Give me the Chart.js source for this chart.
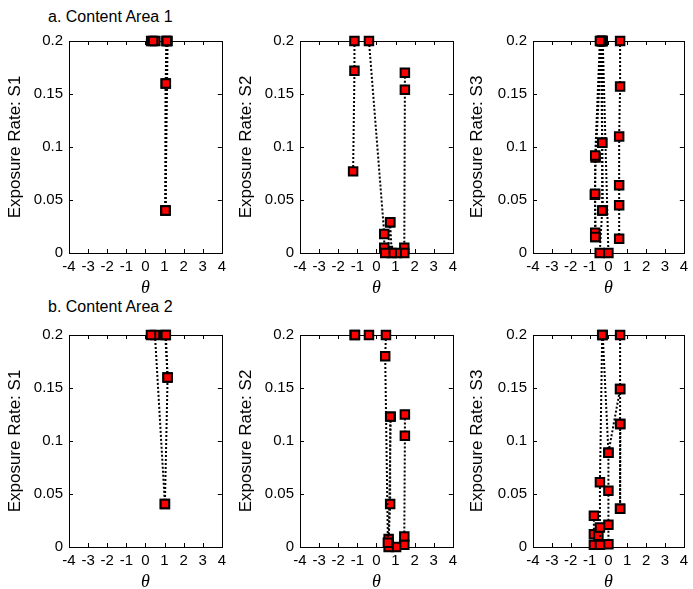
<!DOCTYPE html>
<html>
<head>
<meta charset="utf-8">
<script src="https://cdn.jsdelivr.net/npm/chart.js@4.4.1/dist/chart.umd.min.js"></script>
<style>
	html, body { margin: 0; overflow: hidden; }
	body { background: #fff; width: 693px; height: 589px; position: relative; font-family: "Liberation Sans", Arial, sans-serif; }
	canvas { position: absolute; z-index: 2; }
	.frame { position: absolute; z-index: 1; box-sizing: border-box; border: 1px solid #000; }
	.ttl { position: absolute; font-size: 16px; color: #000; white-space: nowrap; line-height: 18px; }
</style>
</head>
<body>
<div class="ttl" style="left:48px;top:8px">a. Content Area 1</div>
<div class="ttl" style="left:48px;top:298px">b. Content Area 2</div>
<canvas id="a1" width="231" height="300" style="left:0;top:0"></canvas>
<canvas id="a2" width="231" height="300" style="left:231px;top:0"></canvas>
<canvas id="a3" width="231" height="300" style="left:462px;top:0"></canvas>
<canvas id="b1" width="231" height="304" style="left:0;top:290px"></canvas>
<canvas id="b2" width="231" height="304" style="left:231px;top:290px"></canvas>
<canvas id="b3" width="231" height="304" style="left:462px;top:290px"></canvas>
<script>
// axis ticks
const thetaTicks = [-4, -3, -2, -1, 0, 1, 2, 3, 4];
const rateTicks = [0, 0.05, 0.1, 0.15, 0.2];

// each panel: one theta list and one rate list per item path
const thetaA1 = [[0.3, 0.4], [0.52], [1.12, 1.07, 1.05], [1.1, 1.06, 1.05], [1.16, 1.05]];
const rateA1  = [[0.2, 0.2], [0.2], [0.2, 0.16, 0.04], [0.2, 0.16, 0.04], [0.2, 0.04]];

const thetaA2 = [[-1.15, -1.15, -1.22], [-0.39, 0.41, 0.41, 0.46], [0.72, 0.8], [0.72, 0.6], [1.06], [1.49, 1.49, 1.46, 1.46]];
const rateA2  = [[0.2, 0.172, 0.077], [0.2, 0.018, 0.005, 0], [0.029, 0], [0.029, 0.002], [0], [0.17, 0.154, 0.005, 0]];

const thetaA3 = [[-0.45, -0.7, -0.7, -0.7, -0.7], [-0.4, -0.33, -0.33, -0.46], [-0.36, -0.68, -0.72, -0.68], [-0.34, -0.33, -0.3],
	[-0.3, 0.0], [0.62, 0.62, 0.57, 0.57, 0.57, 0.57], [-0.33]];
const rateA3  = [[0.2, 0.092, 0.056, 0.019, 0.015], [0.2, 0.104, 0.04, 0], [0.2, 0.09, 0.055, 0.015], [0.2, 0.104, 0.04],
	[0.2, 0], [0.2, 0.157, 0.11, 0.064, 0.045, 0.0135], [0.2]];

const thetaB1 = [[0.29], [0.5, 1.02], [1.07, 1.16, 1.02], [1.04, 1.16]];
const rateB1  = [[0.2], [0.2, 0.0405], [0.2, 0.16, 0.0405], [0.2, 0.16]];

const thetaB2 = [[-1.14, -1.12], [-0.39], [0.5, 0.46, 0.6], [0.72, 0.72, 0.64, 0.64], [0.75, 0.64], [1.03], [1.49, 1.49, 1.46, 1.46]];
const rateB2  = [[0.2, 0.2], [0.2], [0.2, 0.18, 0.004], [0.123, 0.0405, 0.0075, 0], [0.123, 0.004], [0], [0.125, 0.105, 0.01, 0.002]];

const thetaB3 = [[-0.33, -0.45, -0.45, -0.45], [-0.3, 0.0, 0.0, 0.0, 0.0], [0.62, 0.62, 0.0], [0.62, 0.62, 0.62], [0.63, 0.62],
	[-0.77, -0.77, -0.53, -0.77]];
const rateB3  = [[0.2, 0.061, 0.0185, 0.002], [0.2, 0.089, 0.053, 0.021, 0.0025], [0.2, 0.149, 0.089], [0.149, 0.116, 0.036], [0.116, 0.036],
	[0.0295, 0.012, 0.0107, 0.002]];

// small inward ticks on all four sides, like matlab
const inwardTicks = {
	id: 'inwardTicks',
	beforeDatasetsDraw(chart) {
		const { ctx, chartArea: a } = chart;
		const x = chart.scales.x, y = chart.scales.y;
		ctx.save();
		ctx.setLineDash([]);
		ctx.strokeStyle = '#000';
		ctx.lineWidth = 1;
		ctx.beginPath();
		thetaTicks.forEach(v => {
			const px = Math.round(x.getPixelForValue(v)) + 0.5;
			ctx.moveTo(px, a.bottom); ctx.lineTo(px, a.bottom - 4);
			ctx.moveTo(px, a.top); ctx.lineTo(px, a.top + 4);
		});
		rateTicks.forEach(v => {
			const py = Math.round(y.getPixelForValue(v)) + 0.5;
			ctx.moveTo(a.left, py); ctx.lineTo(a.left + 4, py);
			ctx.moveTo(a.right, py); ctx.lineTo(a.right - 4, py);
		});
		ctx.stroke();
		ctx.restore();
	}
};

const tickFont = { family: '"Liberation Sans", Arial, sans-serif', size: 15 };

// frame sits under the canvas, on the chart area that chart.js worked out
function addFrame(canvas, chart) {
	const a = chart.chartArea;
	const f = document.createElement('div');
	f.className = 'frame';
	f.style.left = (canvas.offsetLeft + a.left) + 'px';
	f.style.top = (canvas.offsetTop + a.top) + 'px';
	f.style.width = (a.right - a.left + 1) + 'px';
	f.style.height = (a.bottom - a.top + 1) + 'px';
	document.body.appendChild(f);
}

function makePanel(id, thetas, rates, yTitle, top, yWidth, xHeight, rightPad) {
	const datasets = thetas.map((th, k) => ({
		data: th.map((t, i) => ({ x: t, y: rates[k][i] })),
		showLine: true,
		borderColor: '#000',
		borderWidth: 2,
		borderDash: [2, 2],
		pointStyle: 'rect',
		pointRadius: 6,
		pointBackgroundColor: '#ff0000',
		pointBorderColor: '#000',
		pointBorderWidth: 2,
		clip: false
	}));
	const canvas = document.getElementById(id);
	const chart = new Chart(canvas, {
		type: 'scatter',
		data: { datasets },
		plugins: [inwardTicks],
		options: {
			responsive: false,
			animation: false,
			events: [],
			layout: { padding: { top: top, right: rightPad, left: 0, bottom: 0 } },
			plugins: { legend: { display: false }, tooltip: { enabled: false } },
			scales: {
				x: {
					type: 'linear', min: -4, max: 4,
					afterBuildTicks: s => { s.ticks = thetaTicks.map(v => ({ value: v })); },
					afterFit: s => { s.height = xHeight; },
					grid: { display: false, drawTicks: false, tickLength: 0 },
					border: { display: false },
					ticks: { color: '#000', font: tickFont, padding: 5, maxRotation: 0, callback: v => String(v) },
					title: {
						display: true, text: 'θ', color: '#000',
						font: { family: '"Liberation Serif", serif', size: 18, style: 'italic', lineHeight: 1 },
						padding: { top: 0, bottom: 3 }
					}
				},
				y: {
					type: 'linear', min: 0, max: 0.2,
					afterBuildTicks: s => { s.ticks = rateTicks.map(v => ({ value: v })); },
					afterFit: s => { s.width = yWidth; },
					grid: { display: false, drawTicks: false, tickLength: 0 },
					border: { display: false },
					ticks: { color: '#000', font: tickFont, padding: 6, callback: v => String(Number(v.toFixed(2))) },
					title: {
						display: true, text: yTitle, color: '#000',
						font: { family: '"Liberation Sans", Arial, sans-serif', size: 17, lineHeight: 1 },
						padding: { top: 7, bottom: 0 }
					}
				}
			}
		}
	});
	addFrame(canvas, chart);
}

makePanel('a1', thetaA1, rateA1, 'Exposure Rate: S1', 41, 69, 47, 8);
makePanel('a2', thetaA2, rateA2, 'Exposure Rate: S2', 41, 69, 47, 7);
makePanel('a3', thetaA3, rateA3, 'Exposure Rate: S3', 41, 71, 47, 5);
makePanel('b1', thetaB1, rateB1, 'Exposure Rate: S1', 45, 69, 47, 8);
makePanel('b2', thetaB2, rateB2, 'Exposure Rate: S2', 45, 69, 47, 7);
makePanel('b3', thetaB3, rateB3, 'Exposure Rate: S3', 45, 71, 47, 5);
</script>
</body>
</html>
